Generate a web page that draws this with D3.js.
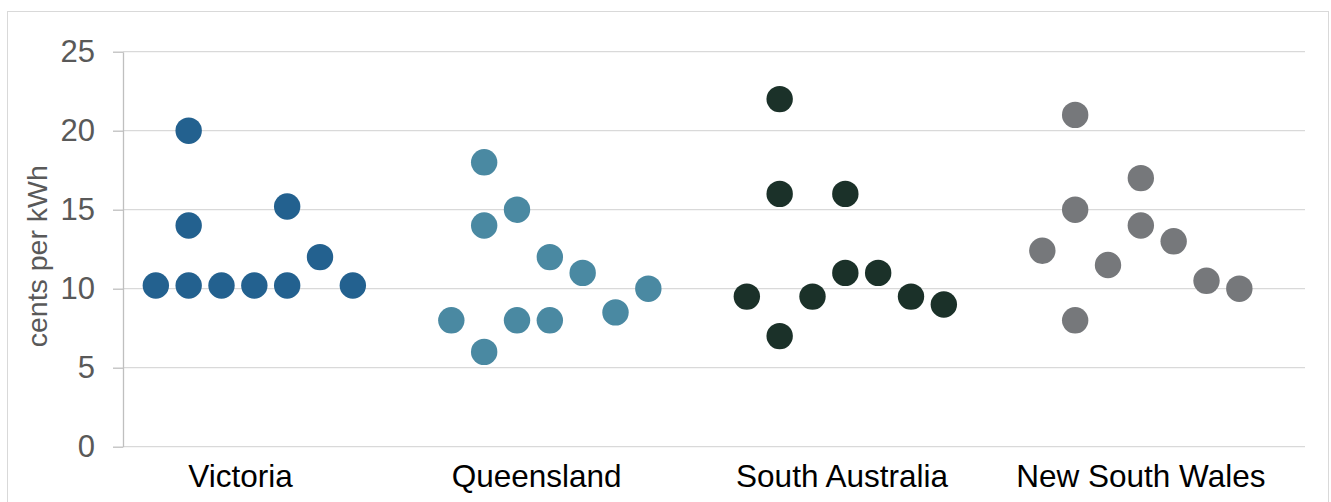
<!DOCTYPE html>
<html>
<head>
<meta charset="utf-8">
<script src="https://cdn.jsdelivr.net/npm/d3@7"></script>
<style>
  html, body { margin: 0; padding: 0; background: #fff; }
  svg { display: block; font-family: "Liberation Sans", Arial, sans-serif; }
</style>
</head>
<body>
<svg id="chart" width="1331" height="502"></svg>
<script>
// Retail price observations by state (cents per kWh), plotted on a shared index axis
const categories = ["Victoria", "Queensland", "South Australia", "New South Wales"];
const categoryCentres = [3.58, 12.6, 21.9, 31];
const colours = ["#23618f", "#4a89a2", "#1b3129", "#76787b"];

const victoriaX = [1, 2, 2, 2, 3, 4, 5, 5, 6, 7];
const victoriaY = [10.2, 20, 14, 10.2, 10.2, 10.2, 15.2, 10.2, 12, 10.2];

const queenslandX = [10, 11, 11, 11, 12, 12, 13, 13, 14, 15, 16];
const queenslandY = [8, 18, 14, 6, 15, 8, 12, 8, 11, 8.5, 10];

const southAustraliaX = [19, 20, 20, 20, 21, 22, 22, 23, 24, 25];
const southAustraliaY = [9.5, 22, 16, 7, 9.5, 16, 11, 11, 9.5, 9];

const newSouthWalesX = [28, 29, 29, 29, 30, 31, 31, 32, 33, 34];
const newSouthWalesY = [12.4, 21, 15, 8, 11.5, 17, 14, 13, 10.5, 10];

const yTicks = [0, 5, 10, 15, 20, 25];
const yLabel = "cents per kWh";

const seriesX = [victoriaX, queenslandX, southAustraliaX, newSouthWalesX];
const seriesY = [victoriaY, queenslandY, southAustraliaY, newSouthWalesY];

const svg = d3.select("#chart");
const plot = { left: 123, right: 1305, top: 51.7, bottom: 446.7 };

// outer frame
svg.append("rect")
  .attr("x", 7.5).attr("y", 11.5)
  .attr("width", 1321).attr("height", 500)
  .attr("fill", "none").attr("stroke", "#d9d9d9").attr("stroke-width", 1);

const x = d3.scaleLinear().domain([0, 36]).range([plot.left, plot.right]);
const y = d3.scaleLinear().domain([0, 25]).range([plot.bottom, plot.top]);

// horizontal gridlines
svg.append("g")
  .selectAll("line")
  .data(yTicks)
  .join("line")
  .attr("x1", plot.left).attr("x2", plot.right)
  .attr("y1", d => y(d)).attr("y2", d => y(d))
  .attr("stroke", "#d9d9d9").attr("stroke-width", 1.3);

// y axis
const yAxis = svg.append("g")
  .attr("transform", `translate(${plot.left},0)`)
  .call(d3.axisLeft(y).tickValues(yTicks).tickSize(10).tickPadding(18).tickSizeOuter(0));
yAxis.select(".domain").attr("stroke", "#bfbfbf").attr("stroke-width", 1.3);
yAxis.selectAll(".tick line").attr("stroke", "#bfbfbf").attr("stroke-width", 1.3);
yAxis.selectAll(".tick text")
  .attr("fill", "#595959")
  .style("font-size", "31px")
  .style("font-family", "'Liberation Sans', Arial, sans-serif");

// y axis title
svg.append("text")
  .attr("transform", `translate(47,${(plot.top + plot.bottom) / 2 + 7}) rotate(-90)`)
  .attr("text-anchor", "middle")
  .attr("fill", "#595959")
  .style("font-size", "28.5px")
  .text(yLabel);

// category labels
svg.append("g")
  .selectAll("text")
  .data(categories)
  .join("text")
  .attr("x", (d, i) => x(categoryCentres[i]))
  .attr("y", 487)
  .attr("text-anchor", "middle")
  .attr("fill", "#000")
  .style("font-size", "31.5px")
  .text(d => d);

// points
seriesX.forEach((xs, s) => {
  svg.append("g")
    .selectAll("circle")
    .data(xs.map((v, i) => [v, seriesY[s][i]]))
    .join("circle")
    .attr("cx", d => x(d[0]))
    .attr("cy", d => y(d[1]))
    .attr("r", 13.2)
    .attr("fill", colours[s]);
});
</script>
</body>
</html>
